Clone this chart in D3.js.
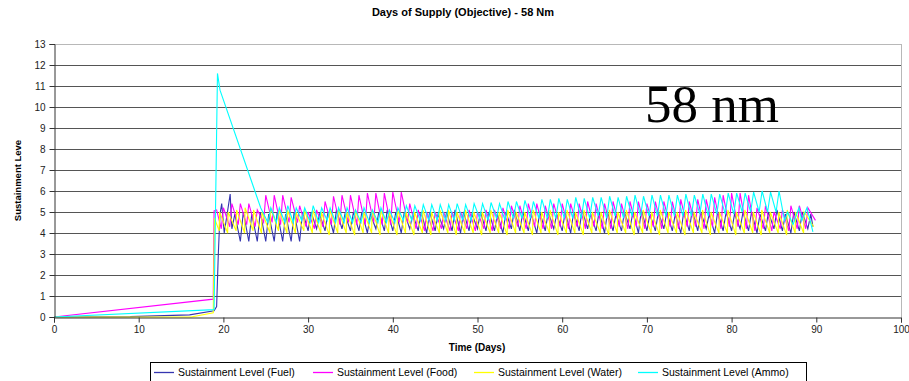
<!DOCTYPE html>
<html>
<head>
<meta charset="utf-8">
<script src="https://cdn.jsdelivr.net/npm/d3@7"></script>
<style>
  html, body { margin: 0; padding: 0; background: #fff; }
  svg { display: block; font-family: "Liberation Sans", Arial, sans-serif; }
</style>
</head>
<body>
<svg id="chart" width="909" height="381"></svg>
<script>
// ---- Data -------------------------------------------------------------
const xTicks = [0, 10, 20, 30, 40, 50, 60, 70, 80, 90, 100];
const yTicks = [0, 1, 2, 3, 4, 5, 6, 7, 8, 9, 10, 11, 12, 13];

// Build-up before the first resupply cycle: [day, level]
const fuelLead  = [[0, 0], [9, 0.02], [16, 0.1], [18.9, 0.3], [19.2, 0.5], [19.4, 3.0], [19.6, 4.9], [19.8, 5.4], [20.1, 4.0], [20.8, 5.85], [21.0, 4.2]];
const foodLead  = [[0, 0], [18.8, 0.85], [18.9, 5.05], [19.2, 5.1], [19.75, 4.2]];
const waterLead = [[0, 0], [16.2, 0], [18.8, 0.2], [18.95, 4.7], [19.5, 4.1], [19.55, 5.0], [20.5, 4.0]];
const ammoLead  = [[0, 0], [18.9, 0.35], [19.3, 11.6], [19.6, 10.8], [24.4, 5.2], [25.25, 4.5]];

// Daily resupply cycles: level after delivery (peak) and before the next (trough)
const fuelStart = 21;
const fuelPeaks = [
  4.9, 5.0, 4.9, 5.0, 4.9, 5.0, 4.9, 5.0, 5.0, 5.0,
  4.9, 5.0, 5.1, 4.9, 5.0, 5.0, 4.9, 5.0, 5.1, 5.0,
  5.0, 4.9, 5.0, 5.0, 4.9, 5.0, 5.1, 5.0, 4.9, 5.0,
  5.0, 4.9, 5.0, 5.1, 5.0, 4.9, 5.0, 5.0, 4.9, 5.0,
  5.0, 5.1, 4.9, 5.0, 5.0, 4.9, 5.0, 5.0, 5.1, 4.9,
  5.0, 5.0, 4.9, 5.0, 5.1, 5.0, 4.9, 5.0, 5.0, 4.9,
  5.0, 5.0, 4.9, 5.0, 5.1, 4.9, 5.0, 5.0
];
const fuelTroughs = [
  3.6, 3.6, 3.6, 3.6, 3.6, 3.6, 3.6, 3.6, 4.1, 4.2,
  4.1, 4.0, 4.2, 4.1, 4.1, 4.0, 4.2, 4.1, 4.1, 4.0,
  4.2, 4.1, 4.0, 4.1, 4.2, 4.1, 4.0, 4.1, 4.2, 4.1,
  4.1, 4.0, 4.2, 4.1, 4.1, 4.0, 4.1, 4.2, 4.1, 4.0,
  4.1, 4.2, 4.1, 4.0, 4.1, 4.1, 4.2, 4.0, 4.1, 4.1,
  4.2, 4.1, 4.0, 4.1, 4.1, 4.2, 4.0, 4.1, 4.1, 4.2,
  4.1, 4.0, 4.1, 4.2, 4.1, 4.0, 4.1, 4.2
];

const foodStart = 20;
const foodPeaks = [
  5.2, 5.4, 5.4, 5.4, 5.1, 5.8, 5.8, 5.8, 5.7, 5.3,
  5.0, 5.1, 5.5, 5.75, 5.8, 5.8, 5.8, 5.9, 5.9, 5.9,
  5.95, 5.95, 5.4, 5.1, 5.0, 5.0, 5.0, 5.0, 5.0, 5.1,
  5.0, 5.1, 5.1, 5.2, 5.3, 5.3, 5.4, 5.4, 5.3, 5.4,
  5.4, 5.4, 5.4, 5.5, 5.4, 5.4, 5.5, 5.4, 5.5, 5.5,
  5.4, 5.5, 5.5, 5.5, 5.6, 5.5, 5.6, 5.6, 5.7, 5.8,
  5.9, 5.9, 5.8, 5.2, 5.3, 5.0, 5.1, 5.3, 5.3
];
const foodTroughs = [
  4.3, 4.4, 4.4, 4.3, 4.5, 4.5, 4.4, 4.5, 4.5, 4.3,
  4.2, 4.3, 4.4, 4.4, 4.5, 4.4, 4.4, 4.5, 4.4, 4.4,
  4.5, 4.5, 4.2, 4.1, 4.1, 4.2, 4.1, 4.1, 4.2, 4.1,
  4.2, 4.1, 4.2, 4.2, 4.3, 4.2, 4.3, 4.2, 4.2, 4.3,
  4.2, 4.3, 4.2, 4.3, 4.2, 4.2, 4.3, 4.2, 4.3, 4.2,
  4.3, 4.2, 4.3, 4.2, 4.3, 4.3, 4.2, 4.3, 4.2, 4.3,
  4.3, 4.2, 4.1, 4.2, 4.1, 4.2, 4.1, 4.2, 4.2
];

const waterStart = 20;
const waterPeaks = [
  5.0, 5.1, 5.2, 5.1, 5.0, 5.2, 5.1, 5.1, 5.0, 5.1,
  5.1, 5.0, 5.1, 5.1, 5.0, 5.1, 5.0, 5.1, 5.1, 5.0,
  5.1, 5.0, 5.0, 5.1, 5.0, 5.1, 5.1, 5.0, 5.1, 5.0,
  5.0, 5.1, 5.0, 5.1, 5.0, 5.0, 5.1, 5.0, 5.1, 5.0,
  5.1, 5.0, 5.1, 5.0, 5.0, 5.1, 5.0, 5.1, 5.0, 5.1,
  5.0, 5.1, 5.0, 5.0, 5.1, 5.0, 5.1, 5.0, 5.0, 5.1,
  5.0, 5.1, 5.0, 5.1, 5.0, 5.0, 5.1, 5.0
];
const waterTroughs = [
  4.1, 4.0, 4.1, 4.0, 4.0, 4.1, 4.0, 4.0, 4.1, 4.0,
  4.0, 3.9, 4.0, 4.0, 3.9, 4.0, 4.0, 3.9, 4.0, 3.9,
  4.0, 3.9, 4.0, 3.9, 4.0, 4.0, 3.9, 4.0, 4.0, 3.9,
  4.0, 4.0, 3.9, 4.0, 4.0, 3.9, 4.0, 4.0, 3.9, 4.0,
  4.0, 3.9, 4.0, 4.0, 3.9, 4.0, 4.0, 3.9, 4.0, 4.0,
  3.9, 4.0, 4.0, 3.9, 4.0, 4.0, 3.9, 4.0, 4.0, 3.9,
  4.0, 4.0, 3.9, 4.0, 4.0, 3.9, 4.0, 4.0
];

const ammoStart = 25;
const ammoPeaks = [
  5.2, 5.2, 5.3, 5.2, 5.2, 5.3, 5.2, 5.2, 5.2, 5.2,
  5.1, 5.2, 5.1, 5.2, 5.1, 5.2, 5.3, 5.3, 5.35, 5.35,
  5.35, 5.35, 5.4, 5.35, 5.4, 5.4, 5.45, 5.4, 5.5, 5.5,
  5.55, 5.5, 5.6, 5.6, 5.65, 5.6, 5.7, 5.65, 5.7, 5.7,
  5.75, 5.7, 5.75, 5.8, 5.75, 5.8, 5.8, 5.8, 5.8, 5.85,
  5.8, 5.85, 5.85, 5.85, 5.9, 5.9, 5.9, 5.95, 6.0, 5.95,
  6.0
];
const ammoTroughs = [
  4.5, 4.5, 4.5, 4.6, 4.5, 4.5, 4.6, 4.5, 4.5, 4.5,
  4.5, 4.5, 4.5, 4.5, 4.5, 4.6, 4.6, 4.6, 4.6, 4.6,
  4.6, 4.6, 4.6, 4.6, 4.7, 4.6, 4.7, 4.6, 4.7, 4.7,
  4.7, 4.7, 4.7, 4.7, 4.7, 4.7, 4.7, 4.7, 4.8, 4.7,
  4.8, 4.7, 4.8, 4.8, 4.8, 4.8, 4.8, 4.8, 4.8, 4.8,
  4.9, 4.8, 4.9, 4.9, 4.9, 5.0, 5.0, 5.0, 5.0, 5.0,
  4.6
];

// Final readings after the last full cycle: [day, level]
const fuelTail  = [[89.35, 4.9], [89.6, 4.3]];
const foodTail  = [[89.0, 5.2], [89.9, 4.6]];
const waterTail = [[88.56, 5.0], [89.7, 4.3]];
const ammoTail  = [[86.6, 5.0], [87.25, 4.4], [87.95, 5.2], [88.3, 4.6], [88.9, 5.2], [89.6, 4.05]];

// ---- Series assembly ---------------------------------------------------
// Each cycle: delivery peak reached `rise` days after the cycle opens,
// consumption down to the trough when the next cycle opens.
function cycles(lead, start, offset, rise, peaks, troughs, tail) {
  const pts = lead.map(d => ({ t: d[0], v: d[1] }));
  peaks.forEach((p, i) => {
    const day = start + i + offset;
    pts.push({ t: day + rise, v: p });
    pts.push({ t: day + 1, v: troughs[i] });
  });
  tail.forEach(d => pts.push({ t: d[0], v: d[1] }));
  return pts;
}

const series = [
  { name: "Sustainment Level (Fuel)",  color: "#3535b0", pts: cycles(fuelLead, fuelStart, 0, 0.35, fuelPeaks, fuelTroughs, fuelTail) },
  { name: "Sustainment Level (Food)",  color: "#ff00ff", pts: cycles(foodLead, foodStart, -0.25, 0.25, foodPeaks, foodTroughs, foodTail) },
  { name: "Sustainment Level (Water)", color: "#ffff00", pts: cycles(waterLead, waterStart, 0.5, 0.06, waterPeaks, waterTroughs, waterTail) },
  { name: "Sustainment Level (Ammo)",  color: "#00ffff", pts: cycles(ammoLead, ammoStart, 0.25, 0.35, ammoPeaks, ammoTroughs, ammoTail) }
];

// ---- Chart ---------------------------------------------------------------
const svg = d3.select("#chart");
const x = d3.scaleLinear().domain([0, 100]).range([54, 901]);
const y = d3.scaleLinear().domain([0, 13]).range([317, 44]);

// Title
svg.append("text")
  .attr("x", 463).attr("y", 16)
  .attr("text-anchor", "middle")
  .attr("font-size", 11).attr("font-weight", "bold")
  .text("Days of Supply (Objective) - 58 Nm");

// Horizontal gridlines
svg.append("g").selectAll("line")
  .data(yTicks.filter(d => d > 0))
  .join("line")
  .attr("x1", x(0)).attr("x2", x(100))
  .attr("y1", d => Math.round(y(d)) + 0.5).attr("y2", d => Math.round(y(d)) + 0.5)
  .attr("stroke", d => d === 13 ? "#b8b8b8" : "#555")
  .attr("stroke-width", 1);

// Right border of plot area
svg.append("line")
  .attr("x1", Math.round(x(100)) + 0.5).attr("x2", Math.round(x(100)) + 0.5)
  .attr("y1", y(13)).attr("y2", y(0))
  .attr("stroke", "#b8b8b8");

// Data lines
const line = d3.line().x(d => x(d.t)).y(d => y(d.v));
svg.append("g").selectAll("path")
  .data(series)
  .join("path")
  .attr("d", d => line(d.pts))
  .attr("fill", "none")
  .attr("stroke", d => d.color)
  .attr("stroke-width", 1.1)
  .attr("stroke-linejoin", "miter");

// Axes
const yAxis = svg.append("g")
  .attr("transform", `translate(${Math.round(x(0)) + 0.5},0)`)
  .call(d3.axisLeft(y).tickValues(yTicks).tickSize(5).tickPadding(4).tickFormat(d3.format("d")));
const xAxis = svg.append("g")
  .attr("transform", `translate(0,${Math.round(y(0)) + 0.5})`)
  .call(d3.axisBottom(x).tickValues(xTicks).tickSize(5).tickPadding(3).tickFormat(d3.format("d")));
[yAxis, xAxis].forEach(g => {
  g.selectAll("text").attr("font-size", 10).attr("font-family", "Liberation Sans, Arial, sans-serif").attr("fill", "#222");
  g.selectAll("path, line").attr("stroke", "#333");
});

// Axis titles
svg.append("text")
  .attr("transform", `translate(21,${(y(0) + y(13)) / 2}) rotate(-90)`)
  .attr("text-anchor", "middle")
  .attr("font-size", 9.5).attr("font-weight", "bold")
  .text("Sustainment Leve");
svg.append("text")
  .attr("x", 477).attr("y", 351)
  .attr("text-anchor", "middle")
  .attr("font-size", 10).attr("font-weight", "bold")
  .text("Time (Days)");

// Range annotation
svg.append("text")
  .attr("x", 645).attr("y", 122)
  .attr("font-family", "Liberation Serif, Times New Roman, serif")
  .attr("font-size", 53)
  .text("58 nm");

// Legend
const legend = svg.append("g");
legend.append("rect")
  .attr("x", 150.5).attr("y", 362.5).attr("width", 656).attr("height", 26)
  .attr("fill", "#fff").attr("stroke", "#000");
const legendX = [154, 313, 474, 638];
const item = legend.selectAll("g.item")
  .data(series)
  .join("g").attr("class", "item")
  .attr("transform", (d, i) => `translate(${legendX[i]},372)`);
item.append("line")
  .attr("x1", 0).attr("x2", 20).attr("y1", 0.5).attr("y2", 0.5)
  .attr("stroke", d => d.color).attr("stroke-width", 1.3);
item.append("text")
  .attr("x", 24).attr("y", 4)
  .attr("font-size", 10.5)
  .text(d => d.name);
</script>
</body>
</html>
